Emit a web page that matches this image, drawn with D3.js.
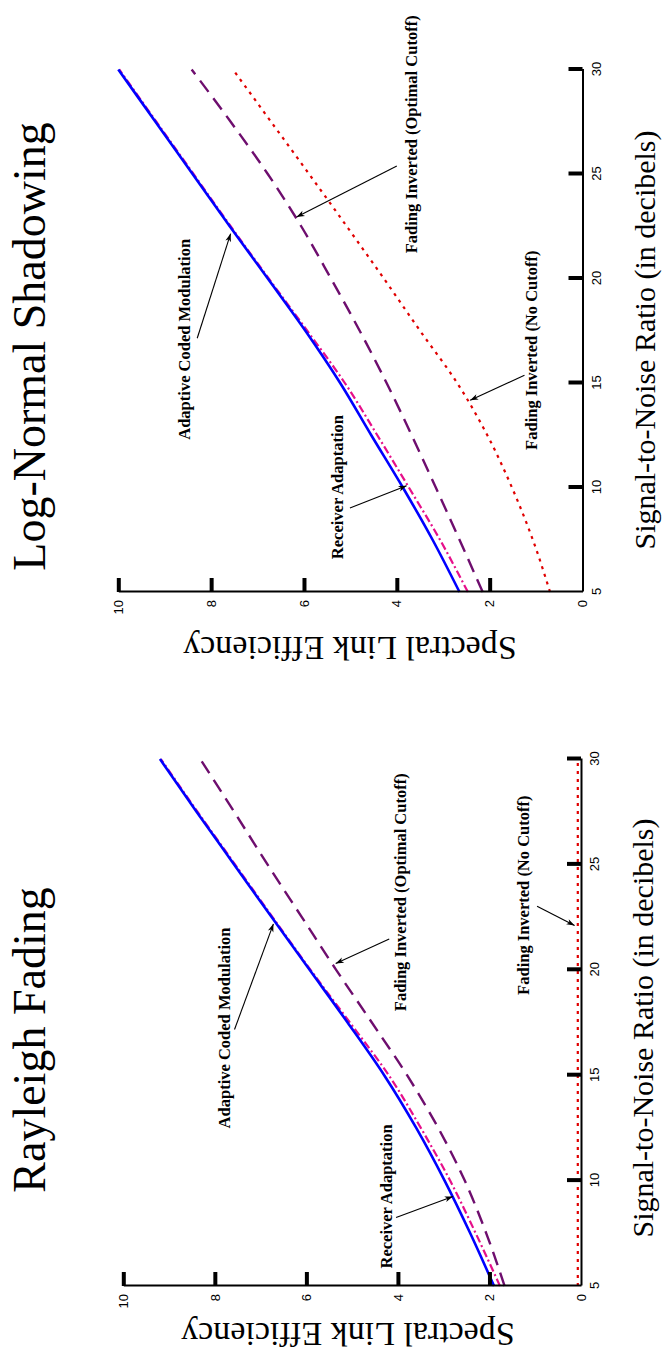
<!DOCTYPE html>
<html><head><meta charset="utf-8">
<script src="https://cdn.jsdelivr.net/npm/d3@7"></script>
<style>body{margin:0;background:#fff} svg{display:block}</style>
</head><body>
<svg id="chart" width="665" height="1360"></svg>
<script>
// ---------- data ----------
const snrValues = [5, 7.5, 10, 12.5, 15, 17.5, 20, 22.5, 25, 27.5, 30];
const snrTicks = [5, 10, 15, 20, 25, 30];
const effTicks = [0, 2, 4, 6, 8, 10];

// Rayleigh fading
const rayleighACM    = [1.90, 2.42, 2.98, 3.60, 4.30, 5.10, 5.93, 6.76, 7.58, 8.40, 9.20];
const rayleighRecv   = [1.77, 2.30, 2.86, 3.50, 4.20, 5.05, 5.91, 6.74, 7.56, 8.38, 9.18];
const rayleighInvOpt = [1.67, 2.07, 2.54, 3.12, 3.80, 4.57, 5.35, 6.10, 6.85, 7.58, 8.32];
const rayleighInvNo  = [0.07, 0.07, 0.07, 0.07, 0.07, 0.07, 0.07, 0.07, 0.07, 0.07, 0.07];

// Log-normal shadowing
const lognormACM    = [2.65, 3.23, 3.87, 4.55, 5.22, 5.97, 6.78, 7.60, 8.40, 9.20, 10.00];
const lognormRecv   = [2.47, 3.07, 3.74, 4.42, 5.12, 5.93, 6.76, 7.58, 8.38, 9.18, 9.98];
const lognormInvOpt = [2.15, 2.65, 3.16, 3.68, 4.22, 4.80, 5.42, 6.06, 6.78, 7.58, 8.42];
const lognormInvNo  = [0.70, 1.07, 1.52, 2.05, 2.70, 3.50, 4.28, 5.08, 5.89, 6.71, 7.53];

const titles = ["Log-Normal Shadowing", "Rayleigh Fading"];
const xLabel = "Signal-to-Noise Ratio (in decibels)";
const yLabel = "Spectral Link Efficiency";

// annotations: label centre (snr), label baseline (eff), arrow tail -> tip
const lognormNotes = [
  {text: "Adaptive Coded Modulation", snr: 17.09, eff: 8.45, from: [17.14, 8.30], to: [22.15, 7.58]},
  {text: "Receiver Adaptation", snr: 10.02, eff: 5.16, from: [9.02, 5.01], to: [10.08, 3.79]},
  {text: "Fading Inverted (Optimal Cutoff)", snr: 26.9, eff: 3.57, from: [25.38, 4.00], to: [22.94, 6.16]},
  {text: "Fading Inverted (No Cutoff)", snr: 16.57, eff: 0.97, from: [15.37, 1.25], to: [14.18, 2.42]}
];
const rayleighNotes = [
  {text: "Adaptive Coded Modulation", snr: 17.24, eff: 7.66, from: [17.17, 7.57], to: [22.18, 6.72]},
  {text: "Receiver Adaptation", snr: 9.25, eff: 4.14, from: [8.25, 4.04], to: [9.25, 2.80]},
  {text: "Fading Inverted (Optimal Cutoff)", snr: 23.68, eff: 3.82, from: [21.46, 4.19], to: [20.3, 5.36]},
  {text: "Fading Inverted (No Cutoff)", snr: 23.54, eff: 1.13, from: [23.02, 0.96], to: [22.1, 0.14]}
];

// ---------- styles ----------
const styles = {
  invNo:  {color: "#e00000", width: 2.2, dash: "3,5"},
  invOpt: {color: "#6e0e6e", width: 2.4, dash: "14,8"},
  recv:   {color: "#e6108a", width: 2.2, dash: "8,3,2,3"},
  acm:    {color: "#0000ff", width: 2.6, dash: null}
};

const svg = d3.select("#chart");
const defs = svg.append("defs");
defs.append("marker").attr("id", "arr")
  .attr("viewBox", "-10 -5 10 10").attr("refX", 0).attr("refY", 0)
  .attr("markerWidth", 9).attr("markerHeight", 9)
  .attr("markerUnits", "userSpaceOnUse").attr("orient", "auto")
  .append("path").attr("d", "M0,0L-9,-3.2L-6.5,0L-9,3.2Z").attr("fill", "#000");

const panels = [
  {top: 0, u0: 88, u1: 610.5, v0: 582.5, v1: 118.3, title: titles[0], titleU: 333.5, xLabU: 340, xLabV: 655, yLabU: 43, yLabV: 350,
   series: {invNo: lognormInvNo, invOpt: lognormInvOpt, recv: lognormRecv, acm: lognormACM}, notes: lognormNotes},
  {top: 680, u0: 74, u1: 601, v0: 581, v1: 123.3, title: titles[1], titleU: 320, xLabU: 332, xLabV: 653, yLabU: 37, yLabV: 348,
   series: {invNo: rayleighInvNo, invOpt: rayleighInvOpt, recv: rayleighRecv, acm: rayleighACM}, notes: rayleighNotes}
];

panels.forEach(p => {
  const g = svg.append("g").attr("transform", `translate(0,${p.top + 680}) rotate(-90)`);
  const x = d3.scaleLinear().domain([5, 30]).range([p.u0, p.u1]);
  const y = d3.scaleLinear().domain([0, 10]).range([p.v0, p.v1]);

  // curves
  const line = d3.line().x((d, i) => x(snrValues[i])).y(d => y(d)).curve(d3.curveMonotoneX);
  ["invNo", "invOpt", "recv", "acm"].forEach(k => {
    const s = styles[k];
    g.append("path").datum(p.series[k]).attr("d", line)
      .attr("fill", "none").attr("stroke", s.color).attr("stroke-width", s.width)
      .attr("stroke-dasharray", s.dash).attr("stroke-linejoin", "round");
  });

  // axes
  const xAxis = d3.axisBottom(x).tickValues(snrTicks).tickSize(-14).tickSizeOuter(0)
    .tickPadding(9).tickFormat(d3.format("d"));
  const gx = g.append("g").attr("transform", `translate(0,${p.v0})`).call(xAxis);
  const yAxis = d3.axisLeft(y).tickValues(effTicks).tickSize(-14).tickSizeOuter(0)
    .tickPadding(8).tickFormat(d3.format("d"));
  const gy = g.append("g").attr("transform", `translate(${p.u0},0)`).call(yAxis);
  [gx, gy].forEach(a => {
    a.attr("font-family", "'Liberation Sans', Arial, sans-serif").attr("font-size", 13);
    a.select(".domain").attr("stroke", "#000").attr("stroke-width", 2);
    a.selectAll(".tick line").attr("stroke", "#000").attr("stroke-width", 4);
    a.selectAll(".tick text").attr("fill", "#000");
  });
  gx.selectAll(".tick").filter(d => d === 5).select("line").remove();
  gy.selectAll(".tick").filter(d => d === 0).select("line").remove();

  // annotations
  p.notes.forEach(n => {
    g.append("line")
      .attr("x1", x(n.from[0])).attr("y1", y(n.from[1]))
      .attr("x2", x(n.to[0])).attr("y2", y(n.to[1]))
      .attr("stroke", "#000").attr("stroke-width", 1.1).attr("marker-end", "url(#arr)");
    g.append("text").attr("x", x(n.snr)).attr("y", y(n.eff))
      .attr("text-anchor", "middle")
      .attr("font-family", "'Liberation Serif', 'Times New Roman', serif")
      .attr("font-weight", "bold").attr("font-size", 16.5).attr("fill", "#000")
      .text(n.text);
  });

  // titles & axis labels
  g.append("text").attr("x", p.titleU).attr("y", 45).attr("text-anchor", "middle")
    .attr("font-family", "'Liberation Serif', 'Times New Roman', serif").attr("font-size", 46)
    .text(p.title);
  g.append("text").attr("x", p.xLabU).attr("y", p.xLabV).attr("text-anchor", "middle")
    .attr("font-family", "'Liberation Serif', 'Times New Roman', serif").attr("font-size", 30)
    .text(xLabel);
  g.append("text").attr("transform", `translate(${p.yLabU},${p.yLabV}) rotate(-90)`)
    .attr("text-anchor", "middle")
    .attr("font-family", "'Liberation Serif', 'Times New Roman', serif").attr("font-size", 34)
    .text(yLabel);
});
</script>
</body></html>
